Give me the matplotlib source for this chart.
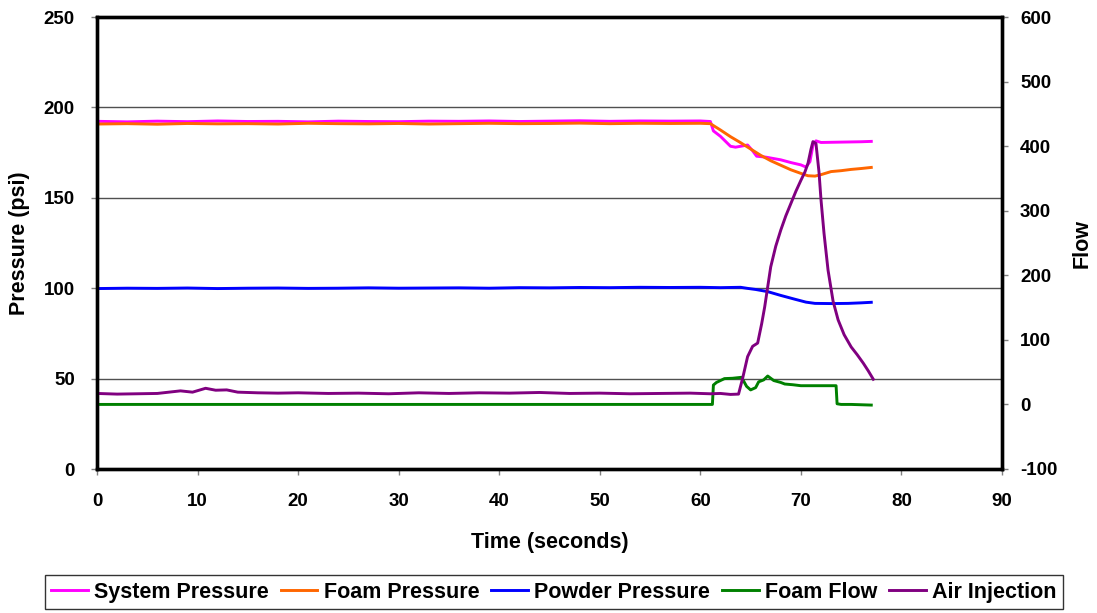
import matplotlib
matplotlib.use("Agg")
import matplotlib.pyplot as plt

plt.rcParams['font.family'] = ['Liberation Sans', 'DejaVu Sans']
plt.rcParams['font.weight'] = 'bold'
plt.rcParams['axes.unicode_minus'] = False

# ---- data ----
sys_t = [0, 3, 6, 9, 12, 15, 18, 21, 24, 27, 30, 33, 36, 39, 42, 45, 48, 51, 54, 57, 60,
         61.0, 61.3, 62.0, 63.0, 63.5, 64.0, 64.7, 65.2, 65.6, 66.5, 68.0, 69.0, 70.0, 70.5,
         70.9, 71.2, 71.5, 72.0, 74.0, 76.0, 77.0]
sys_v = [192.3, 192.0, 192.4, 192.1, 192.5, 192.2, 192.3, 192.0, 192.4, 192.2, 192.1, 192.4,
         192.3, 192.5, 192.2, 192.4, 192.6, 192.3, 192.5, 192.4, 192.5,
         192.2, 187.0, 184.0, 178.5, 178.0, 178.5, 179.2, 176.0, 173.0, 172.5, 171.0, 169.5,
         168.2, 167.0, 170.0, 179.0, 181.5, 180.6, 180.8, 181.0, 181.2]

foam_t = [0, 3, 6, 9, 12, 15, 18, 21, 24, 27, 30, 33, 36, 39, 42, 45, 48, 51, 54, 57, 60,
          61.0, 62.0, 63.0, 64.0, 65.0, 66.0, 67.0, 68.0, 69.0, 70.0, 70.7, 71.4, 72.0,
          73.0, 74.0, 75.0, 76.0, 77.0]
foam_v = [190.8, 191.0, 190.7, 191.1, 190.9, 191.0, 190.8, 191.2, 191.0, 190.9, 191.1, 190.8,
          191.0, 191.2, 191.0, 191.1, 191.3, 191.0, 191.2, 191.1, 191.2,
          191.0, 187.5, 183.8, 180.5, 177.0, 173.5, 170.5, 168.0, 165.5, 163.5, 162.2, 162.0,
          162.8, 164.5, 165.0, 165.7, 166.2, 166.8]

powder_t = [0, 3, 6, 9, 12, 15, 18, 21, 24, 27, 30, 33, 36, 39, 42, 45, 48, 51, 54, 57, 60,
            62.0, 64.0, 64.7, 65.5, 66.7, 68.0, 69.4, 70.5, 71.4, 73.0, 74.7, 76.0, 77.0]
powder_v = [99.8, 100.0, 99.9, 100.1, 99.8, 100.0, 100.1, 99.9, 100.0, 100.2, 100.0, 100.1,
            100.2, 100.0, 100.3, 100.2, 100.4, 100.3, 100.5, 100.4, 100.5,
            100.3, 100.5, 99.9, 99.3, 98.1, 96.0, 93.9, 92.3, 91.6, 91.5, 91.6, 91.9, 92.2]

flow_t = [0, 61.2, 61.3, 61.6, 62.4, 63.2, 64.1, 64.6, 65.0, 65.5, 65.8, 66.3, 66.7, 67.3,
          68.0, 68.4, 69.2, 70.0, 71.0, 72.0, 73.5, 73.6, 74.0, 75.0, 76.0, 77.0]
flow_v = [0, 0, 30, 34, 40, 40.5, 42, 28, 22.5, 26, 35, 38, 44, 37, 34, 31.6, 30.5, 29, 29,
          29, 29, 1, 0, 0, -0.5, -1]

air_t = [0, 2, 4, 6, 8.3, 9.5, 10.8, 11.8, 12.9, 14, 16, 18, 20, 23, 26, 29, 32, 35, 38, 41,
         44, 47, 50, 53, 56, 59, 61, 62, 63, 63.8, 64.2, 64.7, 65.2, 65.7, 66.1, 66.4, 67.0,
         67.5, 68.0, 68.5, 69.0, 69.5, 70.0, 70.4, 70.7, 71.0, 71.2, 71.5, 71.8, 72.0, 72.3,
         72.7, 73.2, 73.7, 74.3, 75.0, 75.6, 76.2, 76.7, 77.2]
air_v = [17, 16, 16.5, 17, 21, 19, 25, 22, 22.5, 19, 18, 17.5, 18, 17, 17.5, 16.5, 18, 17,
         18, 17.5, 18.5, 17, 17.5, 16.5, 17, 17.5, 16.5, 17, 15.5, 16, 40, 74, 90, 95, 125,
         151, 213, 245, 270, 292, 311, 330, 347, 360, 373, 395, 407, 404, 360, 317, 265, 208,
         160, 131, 108, 89, 77, 64, 52, 39]

x_ticks = [0, 10, 20, 30, 40, 50, 60, 70, 80, 90]
left_ticks = [0, 50, 100, 150, 200, 250]
right_ticks = [-100, 0, 100, 200, 300, 400, 500, 600]

# ---- figure ----
fig = plt.figure(figsize=(10.97, 6.13), dpi=100)
ax = fig.add_axes([97 / 1097, 1 - 469 / 613, (1002 - 97) / 1097, (469 - 17) / 613])
ax2 = ax.twinx()

lw = 2.1
l1, = ax.plot(sys_t, sys_v, color='#FF00FF', lw=lw, label='System Pressure')
l2, = ax.plot(foam_t, foam_v, color='#FF6600', lw=lw, label='Foam Pressure')
l3, = ax.plot(powder_t, powder_v, color='#0000FF', lw=lw, label='Powder Pressure')
l4, = ax2.plot(flow_t, flow_v, color='#008000', lw=lw, label='Foam Flow')
l5, = ax2.plot(air_t, air_v, color='#800080', lw=lw, label='Air Injection')

ax.set_xlim(0, 90)
ax.set_ylim(0, 250)
ax2.set_ylim(-100, 600)
ax.set_xticks(x_ticks)
ax.set_yticks(left_ticks)
ax2.set_yticks(right_ticks)

for g in [50, 100, 150, 200]:
    ax.axhline(g, color='#505050', lw=1.0, zorder=0)

for a in (ax, ax2):
    for s in a.spines.values():
        s.set_linewidth(2.4)
        s.set_color('black')
    a.tick_params(direction='out', length=4, width=1, color='#808080', labelsize=13.5)
    for lab in a.get_xticklabels() + a.get_yticklabels():
        lab.set_fontweight('bold')
ax.tick_params(axis='x', pad=13)
ax.tick_params(axis='y', pad=12)
ax2.tick_params(axis='y', pad=9)

ax.set_xlabel('Time (seconds)', fontsize=15.5, fontweight='bold', labelpad=16)
ax.set_ylabel('Pressure (psi)', fontsize=15.5, fontweight='bold', labelpad=10)
ax2.set_ylabel('Flow', fontsize=15.5, fontweight='bold', labelpad=10)

leg = fig.legend(handles=[l1, l2, l3, l4, l5], loc='center', bbox_to_anchor=(0.505, 0.034),
                 ncol=5, frameon=True, fancybox=False, edgecolor='black',
                 prop={'weight': 'bold', 'size': 15.5}, handlelength=1.7,
                 handletextpad=0.3, columnspacing=0.55, borderpad=0.3)
leg.get_frame().set_linewidth(1.0)

fig.savefig('out.png', dpi=100)
